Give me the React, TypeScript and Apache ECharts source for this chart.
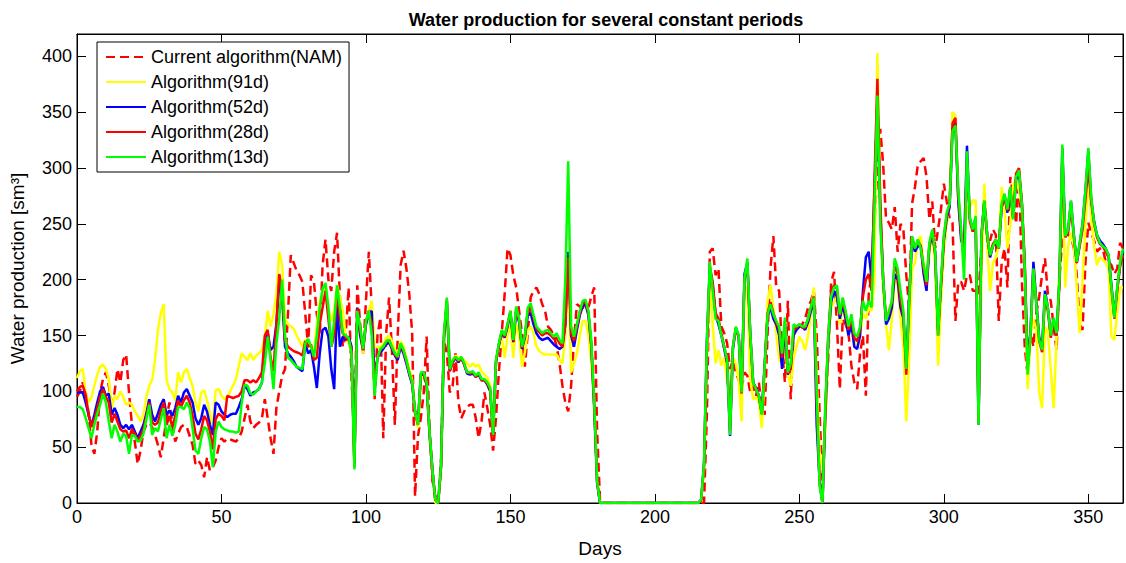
import React, { useEffect, useRef } from "react";
import * as echarts from "echarts";

const FONT = "'Liberation Sans', Arial, Helvetica, sans-serif";
const TITLE = "Water production for several constant periods";
const X_NAME = "Days";
const Y_NAME = "Water production [sm³]";
const X_MAX = 362;
const Y_MAX = 420;
const TICK_STEP = 50;

const SERIES_NAMES = [
  "Current algorithm(NAM)",
  "Algorithm(91d)",
  "Algorithm(52d)",
  "Algorithm(28d)",
  "Algorithm(13d)",
];
const SERIES_COLORS = ["#ff0000", "#ffff00", "#0000ff", "#ff0000", "#00ff00"];

// Daily values, day 0 .. 362
const NAM = [
  95,100,108,99,80,52,44,64,99,111,
  117,105,90,99,120,108,128,133,99,70,
  55,35,47,64,70,72,68,61,52,41,
  58,76,90,70,55,62,68,70,68,60,
  52,35,38,34,23,41,29,32,38,50,
  58,55,58,57,56,55,58,64,76,88,
  73,67,70,72,76,93,76,58,44,85,
  100,114,120,169,222,215,208,204,198,169,
  140,204,198,169,150,213,236,200,190,225,
  242,184,140,150,193,111,60,195,160,134,
  181,225,175,93,150,166,58,152,184,137,
  70,150,213,226,210,187,152,6,60,76,
  99,149,64,20,6,0,40,146,134,99,
  105,134,90,76,82,86,88,88,76,58,
  73,99,85,70,47,76,117,152,187,228,
  222,204,193,172,152,122,152,184,190,193,
  187,178,172,158,155,150,140,125,105,90,
  82,105,146,178,176,175,174,175,185,193,
  64,3,0,0,0,0,0,0,0,0,
  0,0,0,0,0,0,0,0,0,0,
  0,0,0,0,0,0,0,0,0,0,
  0,0,0,0,0,0,0,0,80,225,
  228,204,210,158,152,143,120,128,117,110,
  102,117,114,99,105,96,108,85,79,152,
  210,239,193,190,137,108,181,93,152,160,
  158,160,165,175,181,190,150,80,20,79,
  130,198,207,160,102,165,160,152,123,108,
  102,134,150,96,187,204,250,300,335,303,
  254,251,245,265,225,250,245,204,175,268,
  283,303,306,309,292,254,270,228,245,263,
  286,270,255,251,163,198,198,190,204,204,
  190,190,185,230,274,240,235,245,240,163,
  215,228,193,292,275,250,300,200,140,114,
  152,140,170,185,204,219,187,181,158,137,
  200,238,242,240,239,228,204,160,155,215,
  251,242,235,225,228,228,216,216,213,205,
  210,233,228,
];

const ALG_91D = [
  112,118,120,99,90,95,105,115,122,124,
  120,111,85,96,93,100,95,88,90,88,
  82,78,73,79,95,105,110,128,155,170,
  178,110,102,99,92,117,108,117,120,112,
  105,90,82,99,101,92,80,70,101,102,
  96,93,95,100,105,111,123,134,131,128,
  134,128,132,134,137,149,172,158,169,187,
  225,213,165,160,158,156,150,145,140,146,
  146,140,134,160,180,190,195,175,163,172,
  195,184,172,148,143,135,35,169,152,134,
  160,172,181,140,140,140,142,148,150,145,
  137,133,145,140,130,120,110,85,67,110,
  114,105,62,28,0,0,30,145,175,120,
  126,132,130,130,128,125,122,125,122,124,
  118,115,112,105,65,125,140,148,130,150,
  160,130,160,150,122,135,155,158,152,140,
  136,134,133,133,133,133,133,128,125,150,
  210,117,125,134,150,163,163,150,125,90,
  20,0,0,0,0,0,0,0,0,0,
  0,0,0,0,0,0,0,0,0,0,
  0,0,0,0,0,0,0,0,0,0,
  0,0,0,0,0,0,2,30,130,198,
  160,125,137,123,130,110,96,130,125,110,
  73,195,190,111,93,95,90,67,117,181,
  195,175,152,128,125,140,115,105,130,140,
  149,145,137,150,169,193,110,45,30,67,
  140,175,180,185,160,175,165,150,160,145,
  140,150,170,165,175,172,200,403,260,190,
  160,137,165,200,195,165,140,73,130,210,
  215,235,239,215,200,225,240,215,123,180,
  225,250,270,350,347,270,240,240,265,265,
  271,271,85,200,286,230,190,215,220,230,
  283,262,228,250,285,290,280,265,210,102,
  150,165,155,99,85,158,152,120,85,146,
  210,292,193,230,242,230,193,152,200,250,
  292,255,230,213,220,218,215,210,149,146,
  170,193,193,
];

const ALG_52D = [
  99,99,99,90,79,69,79,90,100,104,
  96,98,79,85,79,70,67,70,66,70,
  64,58,64,70,80,93,79,73,80,88,
  93,79,83,78,85,96,90,99,102,96,
  90,76,70,76,88,82,70,61,90,88,
  82,79,77,79,80,80,86,93,105,102,
  96,99,100,102,108,143,152,137,140,160,
  198,184,140,134,131,127,122,120,118,143,
  134,137,122,103,134,155,157,149,120,102,
  178,140,149,146,149,140,35,175,150,137,
  160,170,172,110,130,135,138,142,144,138,
  132,128,140,134,125,115,106,82,72,115,
  115,106,63,30,3,0,33,148,180,118,
  126,130,126,130,124,116,115,116,113,115,
  110,110,106,100,62,126,141,153,148,158,
  170,144,172,162,138,148,168,170,160,152,
  148,146,147,148,145,142,140,138,140,160,
  225,150,140,155,168,176,178,168,140,85,
  18,0,0,0,0,0,0,0,0,0,
  0,0,0,0,0,0,0,0,0,0,
  0,0,0,0,0,0,0,0,0,0,
  0,0,0,0,0,0,3,35,146,210,
  195,168,160,150,138,125,60,138,156,150,
  99,205,215,152,108,103,96,80,125,168,
  175,165,160,150,120,160,115,122,150,155,
  158,158,155,162,172,182,70,20,0,83,
  145,180,190,185,165,178,165,150,160,140,
  138,150,190,220,225,200,280,360,260,200,
  160,165,175,205,200,175,165,125,185,235,
  225,230,230,205,190,230,240,225,155,195,
  235,255,265,335,340,270,235,230,320,255,
  245,255,70,240,270,240,220,230,235,228,
  265,275,260,280,255,290,296,268,212,125,
  155,216,180,148,140,190,175,150,165,150,
  200,318,240,245,270,240,215,232,250,280,
  315,272,252,240,235,232,228,222,195,168,
  192,214,225,
];

const ALG_28D = [
  100,104,105,97,80,68,75,85,95,102,
  95,90,72,80,73,66,64,65,58,66,
  62,56,60,66,78,90,72,70,72,82,
  90,70,78,68,78,92,86,92,96,90,
  78,62,57,66,78,74,64,48,75,80,
  78,74,96,95,94,95,96,100,110,110,
  108,110,108,112,117,150,155,130,118,160,
  205,190,145,140,138,136,135,134,132,145,
  140,142,128,130,160,175,190,165,140,150,
  190,165,152,148,146,138,32,174,155,137,
  162,172,160,100,132,137,140,144,146,139,
  133,130,142,136,127,116,107,80,70,116,
  116,107,63,30,3,0,34,150,182,118,
  126,131,127,130,124,117,116,117,113,116,
  110,110,107,101,60,127,142,154,149,160,
  172,145,174,164,139,150,172,176,166,156,
  153,150,152,152,150,147,148,143,140,160,
  220,152,145,158,170,179,180,170,142,88,
  19,0,0,0,0,0,0,0,0,0,
  0,0,0,0,0,0,0,0,0,0,
  0,0,0,0,0,0,0,0,0,0,
  0,0,0,0,0,0,2,33,140,212,
  198,170,165,152,140,128,65,140,157,148,
  98,200,215,150,108,102,95,80,122,170,
  180,170,162,155,130,163,116,120,155,157,
  160,157,157,165,175,185,90,18,0,85,
  150,190,195,192,168,182,170,155,165,148,
  145,155,185,200,205,190,290,380,270,200,
  165,170,180,215,205,182,168,115,180,238,
  228,235,230,210,195,232,243,222,150,195,
  238,258,268,340,345,275,240,220,305,252,
  243,253,72,238,270,238,222,232,236,228,
  265,275,262,282,255,295,300,270,215,120,
  150,210,178,145,135,185,172,148,163,150,
  195,310,238,242,265,238,215,230,245,272,
  300,270,250,238,232,230,225,220,192,165,
  190,212,222,
];

const ALG_13D = [
  86,86,84,76,67,58,70,80,88,98,
  90,73,58,70,64,55,62,60,44,61,
  60,55,56,62,75,88,61,67,64,75,
  85,58,70,60,70,86,86,84,90,85,
  67,47,44,58,68,66,55,32,64,73,
  68,66,65,64,64,63,64,90,106,105,
  98,97,100,102,108,125,149,128,102,143,
  165,200,150,130,128,125,122,121,120,143,
  147,140,131,150,175,192,197,175,140,163,
  195,175,152,150,148,134,30,172,158,138,
  163,172,150,96,130,138,140,145,146,140,
  134,131,143,137,128,117,108,82,70,117,
  117,108,64,30,3,0,35,152,184,120,
  128,131,128,131,125,117,117,118,114,117,
  111,111,108,103,61,128,143,155,150,160,
  172,146,176,165,140,150,175,179,168,158,
  155,152,154,155,152,149,152,146,143,200,
  306,158,149,160,172,181,182,172,145,90,
  20,0,0,0,0,0,0,0,0,0,
  0,0,0,0,0,0,0,0,0,0,
  0,0,0,0,0,0,0,0,0,0,
  0,0,0,0,0,0,3,35,146,216,
  190,165,163,150,140,128,61,140,158,150,
  99,201,219,152,108,102,96,79,123,169,
  178,169,163,158,134,166,117,125,160,158,
  160,158,158,165,176,184,100,15,0,90,
  150,185,193,195,169,184,172,158,169,152,
  149,158,181,172,181,175,268,365,250,200,
  163,172,181,219,210,190,172,120,180,239,
  228,236,228,213,198,233,245,225,150,200,
  239,260,268,333,338,280,245,200,315,255,
  245,257,70,239,271,240,222,230,236,228,
  268,277,263,283,254,292,298,268,210,115,
  152,210,178,146,137,187,175,150,166,152,
  200,321,239,245,271,239,216,233,250,280,
  318,274,251,240,233,230,228,222,193,166,
  193,216,228,
];

const SERIES_DATA = [NAM, ALG_91D, ALG_52D, ALG_28D, ALG_13D];

function buildOption() {
  const axisLineStyle = { color: "#000", width: 1 };
  const tickStyle = { inside: true, length: 9, lineStyle: { color: "#000", width: 1 } };
  const labelStyle = { color: "#000", fontSize: 18, fontFamily: FONT };

  const series = SERIES_NAMES.map((name, k) => ({
    name,
    type: "line",
    data: SERIES_DATA[k].map((v, i) => [i, v]),
    symbol: "none",
    showSymbol: false,
    silent: true,
    clip: true,
    lineStyle: {
      color: SERIES_COLORS[k],
      width: 2.5,
      type: k === 0 ? [9, 5] : "solid",
    },
    itemStyle: { color: SERIES_COLORS[k] },
    emphasis: { disabled: true },
  }));

  return {
    animation: false,
    backgroundColor: "#ffffff",
    textStyle: { fontFamily: FONT },
    title: {
      text: TITLE,
      left: 601,
      top: 6,
      textAlign: "center",
      textStyle: { fontSize: 18, fontWeight: "bold", color: "#000", fontFamily: FONT },
    },
    legend: {
      orient: "vertical",
      left: 97,
      top: 42,
      itemWidth: 40,
      itemHeight: 18,
      itemGap: 7,
      padding: [6, 7, 6, 8],
      borderColor: "#000",
      borderWidth: 1,
      backgroundColor: "#fff",
      selectedMode: false,
      itemStyle: { opacity: 0 },
      textStyle: { fontSize: 18, color: "#000", fontFamily: FONT },
      data: SERIES_NAMES,
    },
    grid: {
      left: 74,
      right: 3,
      top: 34,
      bottom: 50,
      show: true,
      borderColor: "#000",
      borderWidth: 1,
      backgroundColor: "transparent",
    },
    xAxis: [
      {
        type: "value",
        min: 0,
        max: X_MAX,
        interval: TICK_STEP,
        position: "bottom",
        name: X_NAME,
        nameLocation: "middle",
        nameGap: 36,
        nameTextStyle: { color: "#000", fontSize: 19, fontFamily: FONT },
        axisLine: { show: true, onZero: false, lineStyle: axisLineStyle },
        axisTick: tickStyle,
        axisLabel: { ...labelStyle, margin: 5, showMaxLabel: false },
        splitLine: { show: false },
      },
      {
        type: "value",
        min: 0,
        max: X_MAX,
        interval: TICK_STEP,
        position: "top",
        axisLine: { show: true, onZero: false, lineStyle: axisLineStyle },
        axisTick: tickStyle,
        axisLabel: { show: false },
        splitLine: { show: false },
      },
    ],
    yAxis: [
      {
        type: "value",
        min: 0,
        max: Y_MAX,
        interval: TICK_STEP,
        position: "left",
        name: Y_NAME,
        nameLocation: "middle",
        nameGap: 50,
        nameRotate: 90,
        nameTextStyle: { color: "#000", fontSize: 19, fontFamily: FONT },
        axisLine: { show: true, onZero: false, lineStyle: axisLineStyle },
        axisTick: tickStyle,
        axisLabel: { ...labelStyle, margin: 5, showMaxLabel: false },
        splitLine: { show: false },
      },
      {
        type: "value",
        min: 0,
        max: Y_MAX,
        interval: TICK_STEP,
        position: "right",
        axisLine: { show: true, onZero: false, lineStyle: axisLineStyle },
        axisTick: tickStyle,
        axisLabel: { show: false },
        splitLine: { show: false },
      },
    ],
    series,
  };
}

export default function App() {
  const ref = useRef<HTMLDivElement>(null);
  useEffect(() => {
    if (!ref.current) return;
    const chart = echarts.init(ref.current, null, { renderer: "svg" });
    chart.setOption(buildOption() as any);
    return () => chart.dispose();
  }, []);
  return (
    <div
      ref={ref}
      style={{ position: "fixed", left: 0, top: 0, width: 1126, height: 563, background: "#fff" }}
    />
  );
}
